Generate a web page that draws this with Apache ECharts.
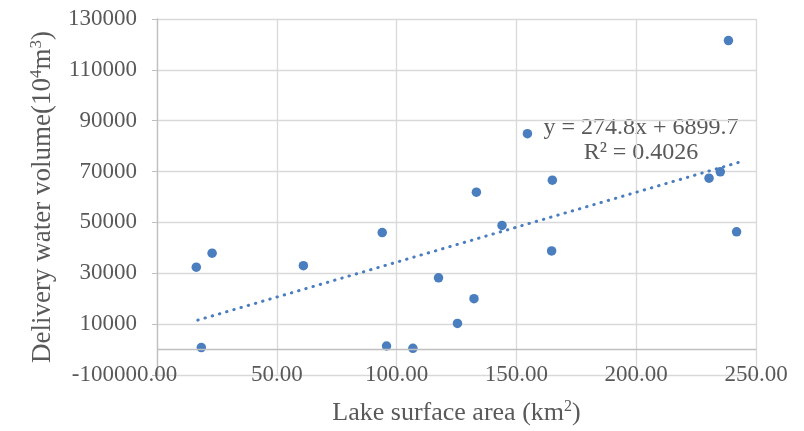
<!DOCTYPE html>
<html>
<head>
<meta charset="utf-8">
<script src="https://cdn.jsdelivr.net/npm/echarts@6/dist/echarts.min.js"></script>
<style>
  html, body { margin: 0; padding: 0; background: #fff; }
  #main { width: 804px; height: 431px; }
</style>
</head>
<body>
<div id="main"></div>
<script>
// lake surface area (km2) vs delivery water volume (10^4 m3)
var areaKm2 = [16.4, 23.0, 18.5, 61.1, 94.0, 95.8, 106.8, 117.5, 125.4, 132.3, 133.3,
               144.0, 154.6, 165.0, 164.7, 230.4, 235.1, 238.5, 241.9];
var waterVol = [32400, 37900, 800, 33000, 46000, 1400, 500, 28200, 10300, 20000, 61900,
                48800, 84900, 66600, 38800, 67400, 69900, 121500, 46300];
// linear trendline endpoints (y = 274.8x + 6899.7)
var trendX = [17, 243];
var trendY = [11570, 73680];
var equationText = ['y = 274.8x + 6899.7', 'R\u00b2 = 0.4026'];

var pts = [];
for (let i = 0; i < areaKm2.length; i++) {
    pts.push([areaKm2[i], waterVol[i]]);
}
var trend = [];
for (let i = 0; i < trendX.length; i++) {
    trend.push([trendX[i], trendY[i]]);
}

var font = '"Liberation Serif", "Times New Roman", serif';
function nameRich(size) {
    return {
        a: { fontFamily: font, fontSize: size, color: '#595959', lineHeight: size + 2 },
        s: { fontFamily: font, fontSize: Math.round(size * 0.62), color: '#595959', lineHeight: 16, verticalAlign: 'top' }
    };
}
var chart = echarts.init(document.getElementById('main'));
chart.setOption({
    animation: false,
    grid: { left: 157, right: 48, top: 19, bottom: 55 },
    xAxis: {
        type: 'value',
        min: 0, max: 250, interval: 50,
        name: '{a|Lake surface area (km}{s|2}{a|)}',
        nameLocation: 'middle',
        nameGap: 24,
        nameTextStyle: { rich: nameRich(26) },
        axisLine: { show: false, onZero: false },
        axisTick: { show: false },
        axisLabel: {
            margin: -12,
            fontFamily: font, fontSize: 23, color: '#595959',
            formatter: function (v) { return v.toFixed(2); }
        },
        splitLine: { show: true, lineStyle: { color: '#d9d9d9', width: 1.3 } }
    },
    yAxis: {
        type: 'value',
        min: -10000, max: 130000, interval: 20000,
        name: '{a|Delivery water volume(10}{s|4}{a|m}{s|3}{a|)}',
        nameLocation: 'middle',
        nameGap: 100,
        nameTextStyle: { rich: nameRich(27) },
        axisLine: { show: true, lineStyle: { color: '#bfbfbf', width: 1.3 } },
        axisTick: { show: true, length: 5, lineStyle: { color: '#bfbfbf' } },
        axisLabel: {
            margin: 20, fontFamily: font, fontSize: 23, color: '#595959',
            formatter: function (v) { return String(v); }
        },
        splitLine: { show: true, lineStyle: { color: '#d9d9d9', width: 1.3 } }
    },
    graphic: [{
        type: 'text',
        x: 641, y: 115,
        style: {
            text: equationText.join('\n'),
            fontFamily: font, fontSize: 24, fill: '#595959',
            align: 'center', verticalAlign: 'top', lineHeight: 25
        }
    }],
    series: [{
        name: 'trend',
        type: 'line',
        data: trend,
        symbol: 'none',
        lineStyle: { color: '#4a7ebf', width: 3, type: [0.5, 7], cap: 'round' },
        silent: true,
        z: 2
    }, {
        name: 'points',
        type: 'scatter',
        data: pts,
        symbolSize: 9.5,
        itemStyle: { color: '#4a7ebf', opacity: 1 },
        z: 3,
        markLine: {
            silent: true,
            symbol: 'none',
            label: { show: false },
            lineStyle: { color: '#bfbfbf', type: 'solid', width: 1.3 },
            data: [{ yAxis: 0 }]
        }
    }]
});
</script>
</body>
</html>
